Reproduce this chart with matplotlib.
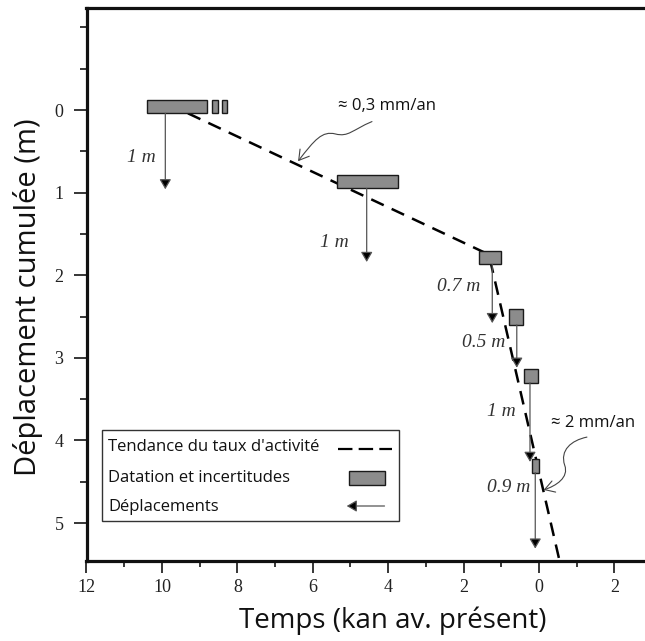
import matplotlib
matplotlib.use("Agg")
import matplotlib.pyplot as plt
from matplotlib.patches import Rectangle, FancyArrowPatch
from matplotlib.path import Path
import numpy as np

# ---------------- data ----------------
# dating boxes (age range in ka BP, displacement range in m)
box_age_min = [8.80, 8.51, 8.28, 3.74, 1.01, 0.43, 0.04, 0.00]
box_age_max = [10.40, 8.68, 8.42, 5.37, 1.59, 0.785, 0.41, 0.19]
box_d_top = [-0.12, -0.12, -0.12, 0.79, 1.71, 2.41, 3.13, 4.22]
box_d_bot = [0.04, 0.04, 0.04, 0.95, 1.87, 2.60, 3.30, 4.39]

# displacement arrows
arrow_age = [9.91, 4.57, 1.24, 0.59, 0.24, 0.10]
arrow_d_start = [0.04, 0.95, 1.87, 2.60, 3.30, 4.39]
arrow_d_end = [0.96, 1.84, 2.58, 3.12, 4.26, 5.31]
arrow_labels = ["1 m", "1 m", "0.7 m", "0.5 m", "1 m", "0.9 m"]
label_age = [10.16, 5.05, 1.56, 0.90, 0.61, 0.22]
label_d = [0.57, 1.60, 2.14, 2.82, 3.65, 4.57]

# activity-rate trend
trend_age = [9.31, 1.33, -0.55]
trend_d = [0.04, 1.75, 5.47]

# rate annotations
rate_texts = ["\u2248 0,3 mm/an", "\u2248 2 mm/an"]
rate_text_pos = [(4.03, -0.05), (-1.42, 3.79)]
rate_paths = [
    [(4.43, 0.14), (4.95, 0.24), (5.05, 0.33), (5.40, 0.29),
     (5.75, 0.25), (5.95, 0.36), (6.39, 0.62)],
    [(-1.27, 3.96), (-0.85, 4.00), (-0.55, 4.12), (-0.68, 4.30),
     (-0.80, 4.45), (-0.45, 4.55), (-0.12, 4.60)],
]

x_ticks = [12, 10, 8, 6, 4, 2, 0, -2]
x_ticklabels = ["12", "10", "8", "6", "4", "2", "0", "2"]
x_minor = [11, 9, 7, 5, 3, 1, -1]
y_ticks = [0, 1, 2, 3, 4, 5]
y_minor = [-1, -0.5, 0.5, 1.5, 2.5, 3.5, 4.5]

legend_labels = ["Tendance du taux d'activit\u00e9", "Datation et incertitudes", "D\u00e9placements"]

# ---------------- figure ----------------
W, H = 645, 641
fig = plt.figure(figsize=(W / 100, H / 100), dpi=100)
L, R, B, T = 86.5, 645, 561, 8
ax = fig.add_axes([L / W, 1 - B / H, (R - L) / W, (B - T) / H])
ax.set_xlim(12, -2.81)
ax.set_ylim(5.46, -1.235)

for s in ["left", "bottom", "top"]:
    ax.spines[s].set_linewidth(2.3)
    ax.spines[s].set_color("#111111")
ax.spines["right"].set_visible(False)

serif = "Liberation Serif"
sans = ["Open Sans", "DejaVu Sans"]

ax.set_xticks(x_ticks)
ax.set_xticklabels(x_ticklabels, fontfamily=serif, fontsize=13, color="#222222")
ax.set_xticks(x_minor, minor=True)
ax.set_yticks(y_ticks)
ax.set_yticklabels([str(v) for v in y_ticks], fontfamily=serif, fontsize=13, color="#222222")
ax.set_yticks(y_minor, minor=True)
ax.tick_params(axis="x", which="major", length=8.6, width=1.1, pad=4, direction="out")
ax.tick_params(axis="x", which="minor", length=4.5, width=1.1, direction="out")
ax.tick_params(axis="y", which="major", length=9.5, width=1.1, pad=7, direction="out")
ax.tick_params(axis="y", which="minor", length=5.0, width=1.1, direction="out")

fig.text(393 / W, 1 - 621 / H, "Temps (kan av. pr\u00e9sent)", ha="center", va="center",
         fontsize=20, family=sans, color="#111111")
fig.text(28 / W, 1 - 297 / H, "D\u00e9placement cumul\u00e9e (m)", ha="center", va="center",
         rotation=90, fontsize=21, family=sans, color="#111111")

# trend line
ax.plot(trend_age, trend_d, color="black", lw=1.8, linestyle=(0, (5.5, 3.5)), zorder=2)

# boxes
box_fc = "#8c8c8c"
for a0, a1, d0, d1 in zip(box_age_min, box_age_max, box_d_top, box_d_bot):
    ax.add_patch(Rectangle((a0, d0), a1 - a0, d1 - d0, facecolor=box_fc,
                           edgecolor="#1a1a1a", lw=1.0, zorder=3))

# arrows
astyle = "-|>,head_length=0.6,head_width=0.35"
for a, d0, d1 in zip(arrow_age, arrow_d_start, arrow_d_end):
    ax.annotate("", xy=(a, d1), xytext=(a, d0),
                arrowprops=dict(arrowstyle=astyle, ec="#555555", fc="black", lw=0.9,
                                shrinkA=0, shrinkB=0), zorder=4)

for txt, a, d in zip(arrow_labels, label_age, label_d):
    ax.text(a, d, txt, ha="right", va="center", fontsize=14, family=serif,
            style="italic", color="#333333", zorder=5)

# rate annotations
for txt, pos, pts in zip(rate_texts, rate_text_pos, rate_paths):
    ax.text(pos[0], pos[1], txt, ha="center", va="center", fontsize=12, family=sans,
            color="#111111", zorder=5,
            bbox=dict(facecolor="white", edgecolor="none", pad=1.5))
    codes = [Path.MOVETO] + [Path.CURVE4] * (len(pts) - 1)
    p = Path(pts, codes)
    arr = FancyArrowPatch(path=p, arrowstyle="->,head_length=0.5,head_width=0.3",
                          mutation_scale=14, color="#444444", lw=0.8, zorder=5)
    ax.add_patch(arr)

# legend (drawn in axes fraction)
ta = ax.transAxes
def fx(px):
    return (px - L) / (R - L)
def fy(py):
    return (B - py) / (B - T)

ax.add_patch(Rectangle((fx(102.3), fy(520.7)), fx(399) - fx(102.3), fy(430) - fy(520.7),
                       transform=ta, facecolor="white", edgecolor="#333333", lw=1.0, zorder=6))
for lab, py in zip(legend_labels, [446.7, 477.7, 506.7]):
    ax.text(fx(108), fy(py), lab, transform=ta, ha="left", va="center", fontsize=12,
            family=sans, color="#111111", zorder=7)
ax.plot([fx(337.7), fx(391.7)], [fy(449), fy(449)], transform=ta, color="black", lw=1.6,
        linestyle=(0, (6.5, 2.8)), zorder=7)
ax.add_patch(Rectangle((fx(348.5), fy(485)), fx(384.5) - fx(348.5), fy(471) - fy(485),
                       transform=ta, facecolor=box_fc, edgecolor="#1a1a1a", lw=1.0, zorder=7))
ax.annotate("", xy=(fx(346.7), fy(506)), xytext=(fx(384.5), fy(506)), xycoords=ta, textcoords=ta,
            arrowprops=dict(arrowstyle=astyle, ec="#555555", fc="black", lw=0.9,
                            shrinkA=0, shrinkB=0), zorder=7)

fig.savefig("out.png", dpi=100)
